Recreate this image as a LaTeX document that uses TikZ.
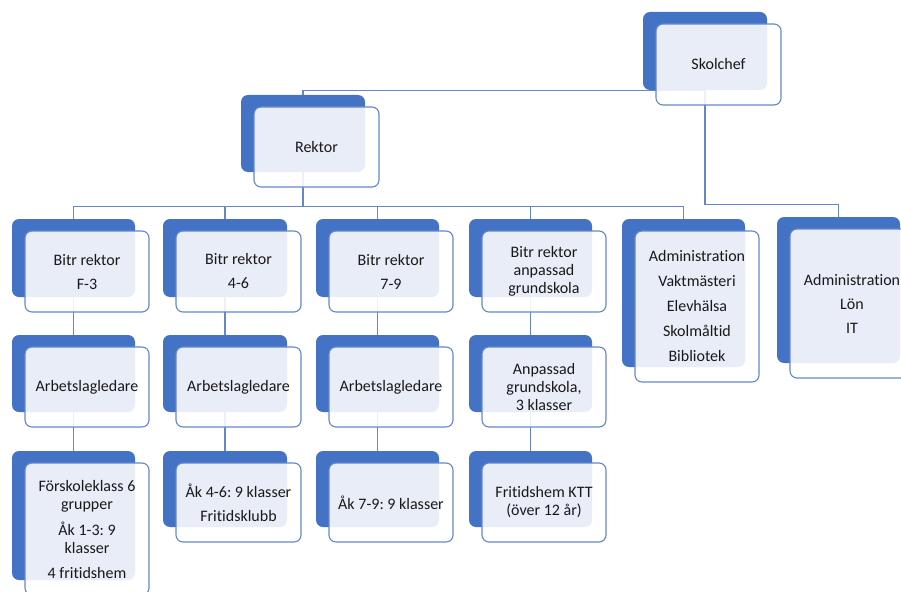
\documentclass[tikz,border=0pt]{standalone}
\usepackage{fontspec}
\setmainfont{Carlito}[Ligatures=NoCommon]
\usetikzlibrary{fit,backgrounds}
\frenchspacing
\definecolor{bblue}{RGB}{68,114,196}
\definecolor{lblue}{RGB}{100,134,205}
\definecolor{txtc}{RGB}{25,25,25}
\tikzset{
  backbox/.style={fill=bblue, draw=none, rounded corners=7pt, inner sep=0pt},
  frontbox/.style={fill=white, fill opacity=0.88, draw=lblue, line width=1.1pt, rounded corners=7pt, inner sep=0pt},
  lbl/.style={text=txtc, align=center, font=\fontsize{16}{18}\selectfont, inner sep=0pt},
  conn/.style={draw=lblue, line width=1.1pt},
}
\newcommand\obox[6]{%
  \node[backbox, fit={(#2,#3) (#4,#5)}] (#1b) {};
  \node[frontbox, fit={(#2+13,#3+12) (#4+14,#5+15)}] (#1) {};
  \node[lbl] (#1t) at (#1.center) {#6};
}
\begin{document}
\begin{tikzpicture}[x=1pt,y=-1pt]
\useasboundingbox (0,0) rectangle (901,591);
\clip (0,0) rectangle (901,591);
\obox{skolchef}{643}{12}{767}{90}{Skolchef}
\obox{rektor}{241}{95}{365}{172}{Rektor}
\obox{b1}{12}{219}{135}{297}{Bitr rektor\\[6pt]F-3}
\obox{b2}{163}{219}{287}{297}{Bitr rektor\\[6pt]4-6}
\obox{b3}{316}{219}{439}{297}{Bitr rektor\\[6pt]7-9}
\obox{b4}{469}{219}{592}{297}{Bitr rektor\\anpassad\\grundskola}
\obox{adm1}{622}{219}{745}{367}{Administration\\[7pt]Vaktmästeri\\[7pt]Elevhälsa\\[7pt]Skolmåltid\\[7pt]Bibliotek}
\obox{adm2}{777}{217}{900}{363}{Administration\\[6pt]Lön\\[6pt]IT}
\obox{a1}{12}{335}{135}{412}{Arbetslagledare}
\obox{a2}{163}{335}{287}{412}{Arbetslagledare}
\obox{a3}{316}{335}{439}{412}{Arbetslagledare}
\obox{a4}{469}{335}{592}{412}{Anpassad\\grundskola,\\3 klasser}
\obox{g1}{12}{451}{135}{580}{Förskoleklass 6\\grupper\\[8pt]Åk 1-3: 9\\klasser\\[7pt]4 fritidshem}
\obox{g2}{163}{451}{287}{527}{Åk 4-6: 9 klasser\\[6pt]Fritidsklubb}
\obox{g3}{316}{451}{439}{527}{Åk 7-9: 9 klasser}
\obox{g4}{469}{451}{592}{527}{Fritidshem KTT\\(över 12 år)}
\begin{scope}[on background layer]
  \draw[conn] (skolchefb.south) -| (rektorb.north);
  \draw[conn] (skolchefb.south) |- ([yshift=12pt]adm2b.north) -- (adm2b.north);
  \foreach \c in {b1,b2,b3,b4,adm1}{
    \draw[conn] (rektorb.south) |- ([yshift=12pt]\c b.north) -- (\c b.north);
  }
  \foreach \c in {1,2,3,4}{
    \draw[conn] (b\c b.south) -- (a\c b.north);
    \draw[conn] (a\c b.south) -- (g\c b.north);
  }
\end{scope}
\end{tikzpicture}
\end{document}
